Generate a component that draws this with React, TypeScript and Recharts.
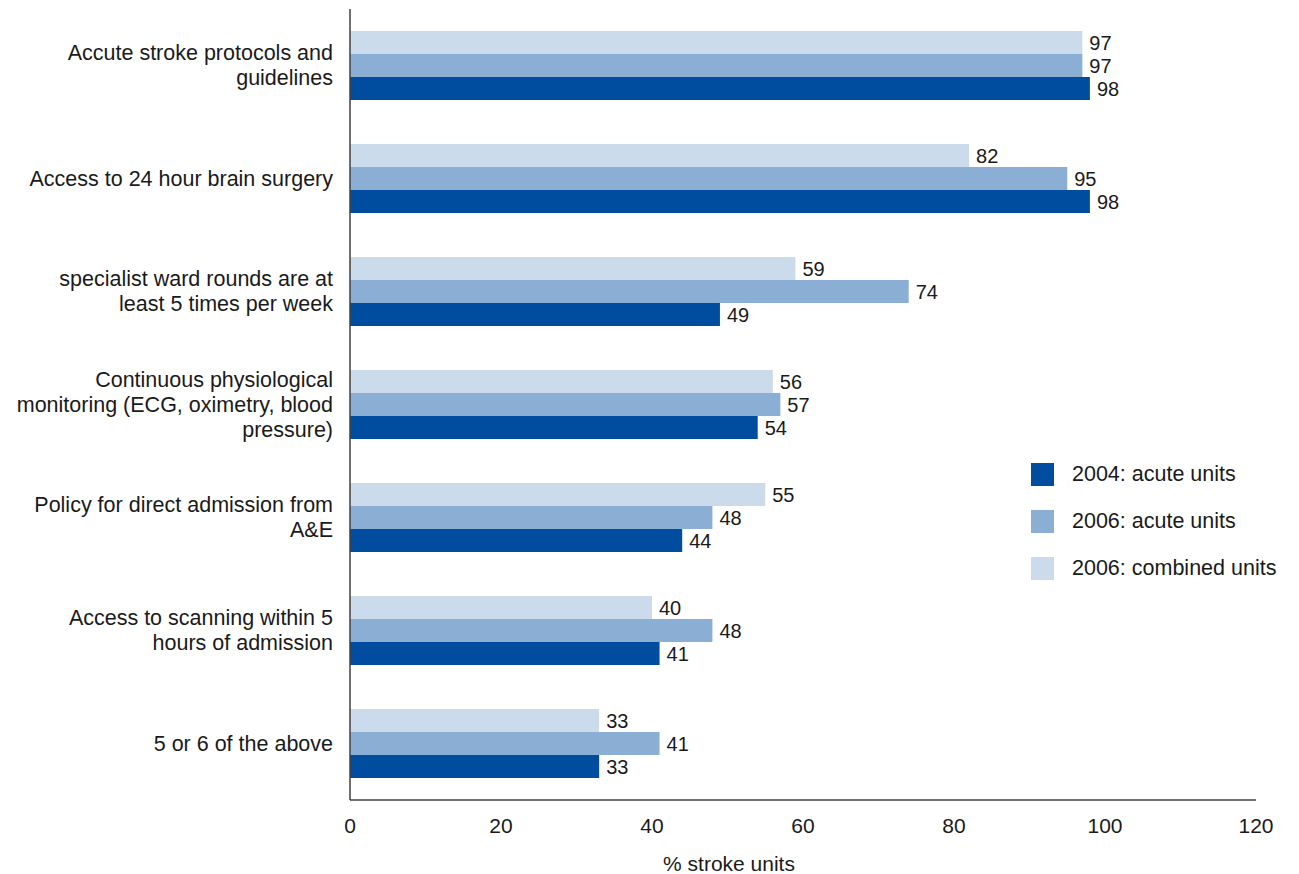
import React from 'react'
import { BarChart, Bar, XAxis, YAxis, LabelList, Label } from 'recharts'

const categories = [
  'Accute stroke protocols and\nguidelines',
  'Access to 24 hour brain surgery',
  'specialist ward rounds are at\nleast 5 times per week',
  'Continuous physiological\nmonitoring (ECG, oximetry, blood\npressure)',
  'Policy for direct admission from\nA&E',
  'Access to scanning within 5\nhours of admission',
  '5 or 6 of the above',
]

const acute2004 = [98, 98, 49, 54, 44, 41, 33]
const acute2006 = [97, 95, 74, 57, 48, 48, 41]
const combined2006 = [97, 82, 59, 56, 55, 40, 33]

const xTicks = [0, 20, 40, 60, 80, 100, 120]

const series = [
  { key: 'acute2004', name: '2004: acute units', color: '#004c9e' },
  { key: 'acute2006', name: '2006: acute units', color: '#8aaed4' },
  { key: 'combined2006', name: '2006: combined units', color: '#ccdbeb' },
]

const data = categories.map((name, i) => ({
  name,
  acute2004: acute2004[i],
  acute2006: acute2006[i],
  combined2006: combined2006[i],
}))

const FONT = '"Liberation Sans", Arial, sans-serif'
const TEXT = '#1a1a1a'
const AXIS = '#404040'

const CategoryTick = (props: any) => {
  const { x, y, payload } = props
  const lines: string[] = String(payload.value).split('\n')
  const lh = 25
  const start = -((lines.length - 1) * lh) / 2
  return (
    <text x={x - 9} y={y} textAnchor="end" fill={TEXT} fontSize={21.5} fontFamily={FONT}>
      {lines.map((l, i) => (
        <tspan key={i} x={x - 9} y={y + start + i * lh} dominantBaseline="central">
          {l}
        </tspan>
      ))}
    </text>
  )
}

function ChartLegend(): JSX.Element {
  return (
    <div style={{ position: 'absolute', left: 1031, top: 463, fontFamily: FONT, fontSize: 21.5, color: TEXT }}>
      {series.map((s) => (
        <div key={s.key} style={{ display: 'flex', alignItems: 'center', height: 23, marginBottom: 24 }}>
          <span style={{ display: 'inline-block', width: 23, height: 23, background: s.color, marginRight: 18 }} />
          <span style={{ whiteSpace: 'nowrap' }}>{s.name}</span>
        </div>
      ))}
    </div>
  )
}

export default function App(): JSX.Element {
  // bars are drawn top to bottom in child order: combined, 2006 acute, 2004 acute
  const barOrder = [series[2], series[1], series[0]]
  return (
    <div style={{ position: 'absolute', left: 0, top: 0, width: 1299, height: 874, background: '#fff' }}>
      <style>{'body{margin:0}'}</style>
      <BarChart
        width={1299}
        height={874}
        data={data}
        layout="vertical"
        margin={{ top: 9, right: 43, bottom: 0, left: 0 }}
        barGap={0}
        barSize={23}
      >
        <XAxis
          type="number"
          domain={[0, 120]}
          ticks={xTicks}
          tickLine={false}
          tickMargin={12}
          height={74}
          axisLine={{ stroke: AXIS, strokeWidth: 1.5 }}
          tick={{ fill: TEXT, fontSize: 21, fontFamily: FONT }}
        >
          <Label
            value="% stroke units"
            position="insideBottom"
            offset={3}
            dx={-74}
            style={{ fill: TEXT, fontSize: 21, fontFamily: FONT }}
          />
        </XAxis>
        <YAxis
          type="category"
          dataKey="name"
          width={350}
          tickLine={false}
          axisLine={{ stroke: AXIS, strokeWidth: 1.5 }}
          tick={<CategoryTick />}
          interval={0}
        />
        {barOrder.map((s) => (
          <Bar key={s.key} dataKey={s.key} name={s.name} fill={s.color} isAnimationActive={false}>
            <LabelList
              dataKey={s.key}
              position="right"
              offset={7}
              style={{ fill: TEXT, fontSize: 20, fontFamily: FONT }}
            />
          </Bar>
        ))}
      </BarChart>
      <ChartLegend />
    </div>
  )
}
